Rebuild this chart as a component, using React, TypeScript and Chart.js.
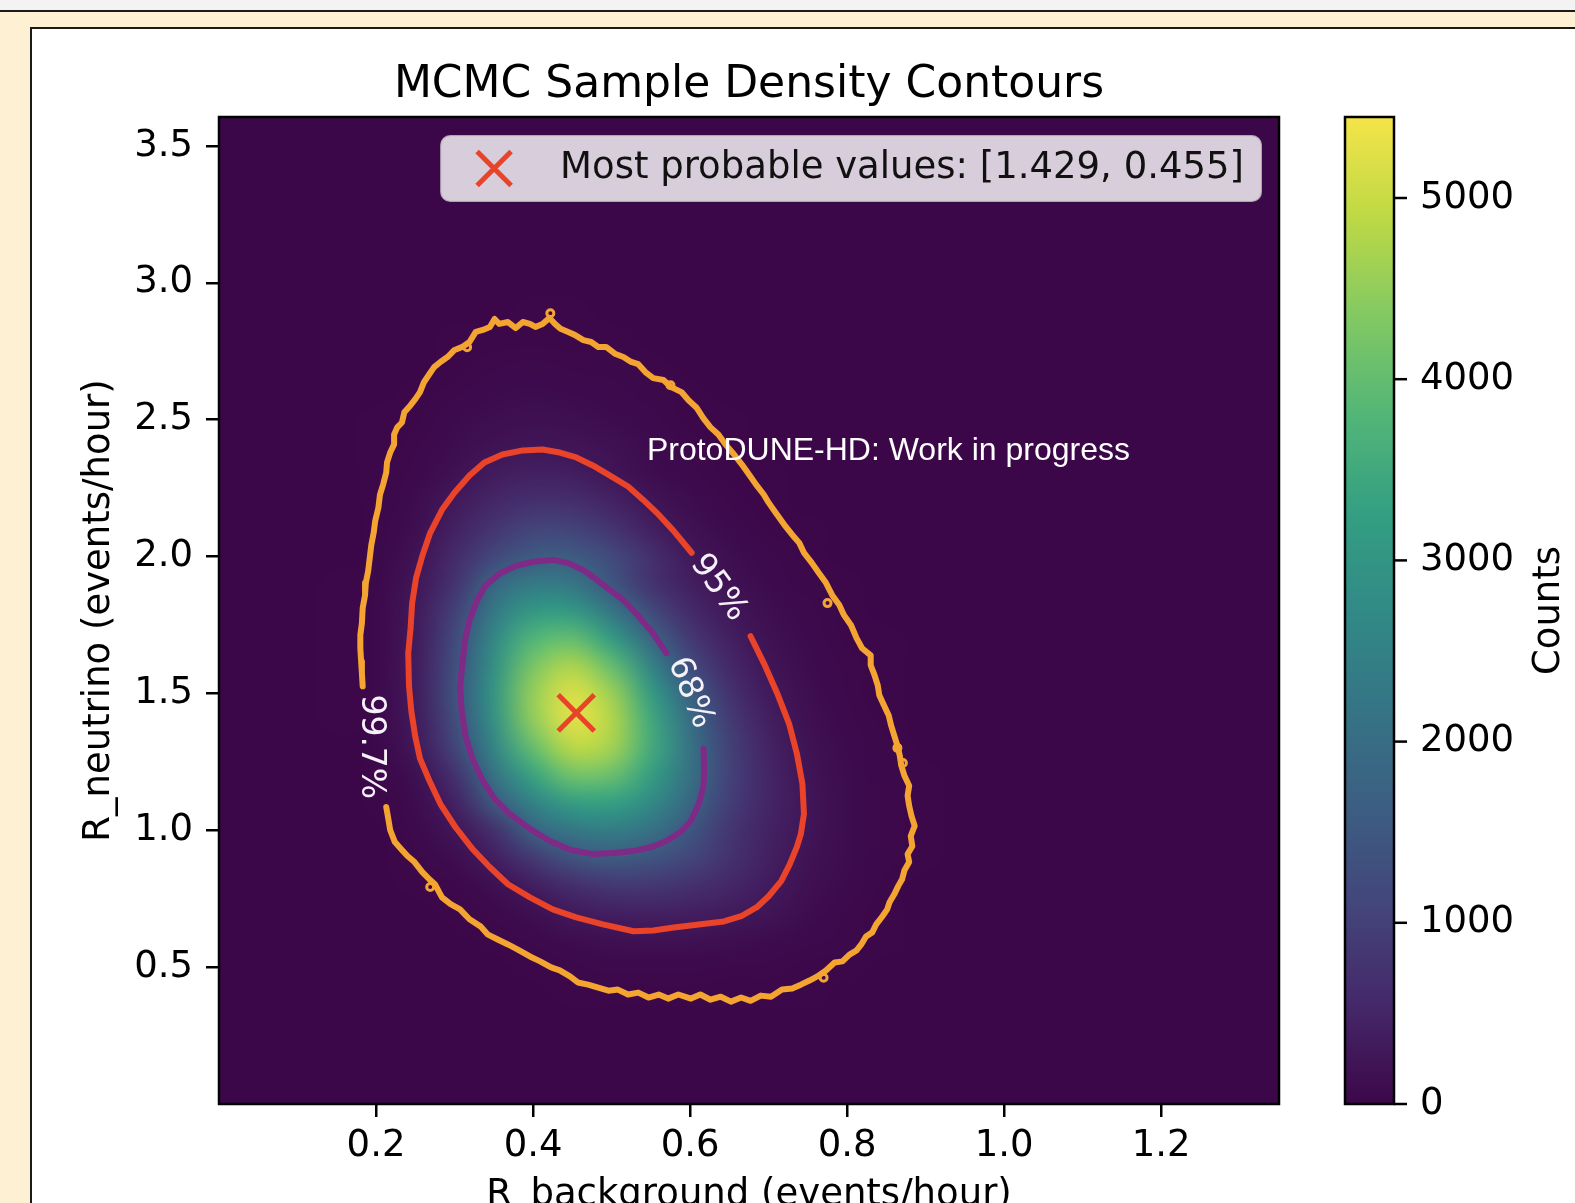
import React, { useEffect, useRef } from 'react';
import { Chart, registerables } from 'chart.js';

Chart.register(...registerables);

const FONT = "'DejaVu Sans', 'Noto Sans', sans-serif";
const WM_FONT = "'Liberation Sans', Arial, sans-serif";

// ---------- data ----------
const X_RANGE = [0, 1.35];
const Y_RANGE = [0, 3.606];
const X_TICKS = [0.2, 0.4, 0.6, 0.8, 1.0, 1.2];
const Y_TICKS = [0.5, 1.0, 1.5, 2.0, 2.5, 3.0, 3.5];
const CB_TICKS = [0, 1000, 2000, 3000, 4000, 5000];
const CB_MAX = 5447;

const TITLE = 'MCMC Sample Density Contours';
const X_LABEL = 'R_background (events/hour)';
const Y_LABEL = 'R_neutrino (events/hour)';
const CB_LABEL = 'Counts';
const WATERMARK = 'ProtoDUNE-HD: Work in progress';
const WATERMARK_POS = [0.545, 2.352];

const BEST_X = 0.455;
const BEST_Y = 1.429;

// 2D histogram (bin centres / counts), rows from low to high R_neutrino
const HEAT_X = [0.1, 0.15, 0.2, 0.25, 0.3, 0.35, 0.4, 0.45, 0.5, 0.55, 0.6, 0.65, 0.7, 0.75, 0.8, 0.85, 0.9, 0.95];
const HEAT_Y = [0.3, 0.4, 0.5, 0.6, 0.7, 0.8, 0.9, 1.0, 1.1, 1.2, 1.3, 1.4, 1.5, 1.6, 1.7, 1.8, 1.9, 2.0, 2.1, 2.2, 2.3, 2.4, 2.5, 2.6, 2.7, 2.8, 2.9, 3.0];
const HEAT_COUNTS = [
  [0, 0, 0, 0, 0, 1, 2, 3, 5, 6, 7, 7, 6, 4, 2, 1, 0, 0],
  [0, 0, 0, 0, 1, 3, 6, 11, 16, 20, 22, 21, 17, 12, 7, 3, 1, 0],
  [0, 0, 0, 1, 3, 8, 16, 29, 42, 49, 47, 41, 32, 23, 14, 5, 2, 0],
  [0, 0, 1, 3, 8, 16, 45, 95, 147, 171, 158, 126, 87, 51, 26, 10, 3, 1],
  [0, 1, 2, 5, 16, 47, 139, 310, 402, 429, 398, 331, 224, 95, 40, 15, 5, 1],
  [0, 1, 3, 11, 39, 140, 386, 661, 853, 849, 720, 527, 332, 152, 59, 22, 7, 2],
  [0, 2, 6, 25, 103, 384, 885, 1422, 1589, 1431, 1103, 731, 416, 195, 78, 30, 9, 2],
  [1, 3, 8, 46, 233, 679, 1755, 2264, 2395, 2110, 1466, 809, 444, 232, 87, 33, 10, 3],
  [1, 3, 10, 76, 418, 1497, 2526, 3202, 3274, 2719, 1835, 958, 488, 240, 86, 33, 10, 3],
  [1, 5, 16, 139, 699, 2120, 3345, 4153, 4075, 3228, 2070, 1034, 491, 219, 76, 29, 9, 2],
  [2, 7, 21, 272, 1044, 2566, 4003, 4878, 4665, 3531, 2122, 1008, 460, 191, 65, 25, 8, 2],
  [2, 9, 27, 312, 1249, 2889, 4475, 5270, 4808, 3484, 2006, 907, 400, 155, 53, 20, 6, 2],
  [3, 11, 34, 332, 1353, 2984, 4532, 5205, 4597, 3161, 1696, 735, 319, 113, 38, 14, 5, 1],
  [3, 12, 38, 337, 1294, 2857, 4253, 4768, 4017, 2549, 1230, 553, 244, 89, 32, 12, 4, 1],
  [3, 13, 39, 319, 1177, 2644, 3781, 4013, 3159, 1845, 868, 406, 172, 64, 24, 9, 3, 1],
  [3, 12, 36, 299, 997, 2288, 3097, 3090, 2233, 1189, 583, 285, 111, 42, 16, 6, 2, 0],
  [2, 10, 29, 243, 728, 1834, 2321, 2220, 1452, 753, 392, 181, 68, 26, 10, 4, 1, 0],
  [2, 8, 24, 184, 584, 1131, 1573, 1580, 1201, 693, 304, 114, 43, 16, 6, 2, 1, 0],
  [2, 7, 20, 115, 422, 797, 1081, 1054, 764, 416, 169, 63, 24, 9, 4, 1, 0, 0],
  [1, 5, 16, 78, 311, 536, 693, 668, 469, 233, 91, 36, 14, 6, 3, 1, 0, 0],
  [1, 4, 13, 46, 161, 347, 429, 387, 244, 107, 47, 21, 9, 4, 2, 1, 0, 0],
  [1, 4, 12, 37, 102, 191, 250, 230, 164, 90, 39, 14, 6, 3, 2, 1, 0, 0],
  [1, 4, 13, 24, 65, 119, 146, 129, 89, 47, 20, 10, 5, 3, 2, 1, 0, 0],
  [0, 2, 5, 15, 35, 62, 82, 72, 50, 26, 11, 5, 2, 1, 0, 0, 0, 0],
  [0, 1, 3, 8, 20, 34, 44, 38, 26, 14, 6, 3, 1, 0, 0, 0, 0, 0],
  [0, 0, 1, 4, 10, 17, 22, 19, 13, 7, 3, 1, 0, 0, 0, 0, 0, 0],
  [0, 0, 0, 2, 4, 8, 10, 9, 6, 3, 1, 0, 0, 0, 0, 0, 0, 0],
  [0, 0, 0, 0, 1, 3, 4, 3, 2, 1, 0, 0, 0, 0, 0, 0, 0, 0],
];

// contour paths (x, y) — each starts and ends at its label gap
const CONTOUR_68 = [
  [0.570, 1.647], [0.551, 1.727], [0.531, 1.793], [0.515, 1.841], [0.498, 1.878], [0.480, 1.918],
  [0.464, 1.951], [0.444, 1.977], [0.425, 1.988], [0.400, 1.981], [0.378, 1.966], [0.357, 1.937],
  [0.339, 1.893], [0.328, 1.837], [0.319, 1.768], [0.313, 1.691], [0.310, 1.610], [0.307, 1.526],
  [0.309, 1.434], [0.314, 1.342], [0.323, 1.258], [0.336, 1.181], [0.351, 1.115], [0.370, 1.060],
  [0.396, 1.005], [0.421, 0.961], [0.448, 0.928], [0.476, 0.913], [0.502, 0.917], [0.528, 0.924],
  [0.551, 0.939], [0.570, 0.961], [0.588, 0.994], [0.601, 1.034], [0.611, 1.096], [0.617, 1.159],
  [0.618, 1.225], [0.617, 1.298],
];

const CONTOUR_95 = [
  [0.677, 1.709], [0.694, 1.610], [0.711, 1.500], [0.726, 1.390], [0.736, 1.280], [0.743, 1.170],
  [0.745, 1.060], [0.741, 0.986], [0.736, 0.939], [0.727, 0.876], [0.716, 0.814], [0.700, 0.759],
  [0.685, 0.719], [0.665, 0.686], [0.643, 0.667], [0.611, 0.656], [0.579, 0.645], [0.553, 0.634],
  [0.528, 0.631], [0.489, 0.656], [0.455, 0.682], [0.425, 0.711], [0.396, 0.755], [0.368, 0.803],
  [0.345, 0.865], [0.323, 0.931], [0.301, 1.012], [0.282, 1.096], [0.268, 1.181], [0.256, 1.262],
  [0.250, 1.342], [0.245, 1.434], [0.242, 1.526], [0.241, 1.647], [0.244, 1.738], [0.246, 1.830],
  [0.251, 1.922], [0.259, 2.003], [0.269, 2.087], [0.284, 2.171], [0.300, 2.234], [0.319, 2.296],
  [0.338, 2.344], [0.361, 2.373], [0.387, 2.388], [0.412, 2.391], [0.434, 2.380], [0.455, 2.362],
  [0.476, 2.333], [0.498, 2.296], [0.521, 2.256], [0.540, 2.208], [0.560, 2.153], [0.579, 2.094],
  [0.602, 2.014],
];

const CONTOUR_997 = [
  [0.213, 1.085], [0.215, 1.052], [0.218, 1.001], [0.224, 0.957], [0.233, 0.928], [0.240, 0.906],
  [0.249, 0.884], [0.259, 0.847], [0.269, 0.818], [0.275, 0.803], [0.284, 0.755], [0.295, 0.730],
  [0.307, 0.711], [0.319, 0.675], [0.333, 0.649], [0.342, 0.620], [0.355, 0.601], [0.368, 0.583],
  [0.380, 0.565], [0.396, 0.539], [0.409, 0.521], [0.423, 0.499], [0.434, 0.488], [0.447, 0.466],
  [0.457, 0.444], [0.470, 0.436], [0.483, 0.425], [0.496, 0.414], [0.508, 0.418], [0.521, 0.400],
  [0.534, 0.407], [0.547, 0.389], [0.560, 0.400], [0.572, 0.385], [0.585, 0.400], [0.601, 0.385],
  [0.613, 0.400], [0.626, 0.381], [0.639, 0.392], [0.652, 0.374], [0.665, 0.389], [0.677, 0.377],
  [0.690, 0.396], [0.703, 0.392], [0.717, 0.418], [0.730, 0.422], [0.741, 0.436], [0.752, 0.451],
  [0.762, 0.466], [0.773, 0.488], [0.784, 0.517], [0.794, 0.521], [0.803, 0.546], [0.812, 0.561],
  [0.818, 0.583], [0.824, 0.612], [0.832, 0.627], [0.837, 0.656], [0.845, 0.686], [0.851, 0.711],
  [0.854, 0.737], [0.860, 0.766], [0.865, 0.796], [0.870, 0.821], [0.873, 0.854], [0.879, 0.884],
  [0.877, 0.913], [0.883, 0.942], [0.881, 0.979], [0.886, 1.016], [0.882, 1.052], [0.879, 1.089],
  [0.877, 1.126], [0.879, 1.163], [0.873, 1.199], [0.869, 1.236], [0.867, 1.273], [0.864, 1.309],
  [0.860, 1.346], [0.856, 1.383], [0.853, 1.419], [0.847, 1.456], [0.841, 1.493], [0.839, 1.529],
  [0.835, 1.566], [0.830, 1.603], [0.830, 1.639], [0.819, 1.665], [0.812, 1.702], [0.805, 1.749],
  [0.796, 1.786], [0.790, 1.823], [0.781, 1.859], [0.773, 1.904], [0.764, 1.940], [0.755, 1.977],
  [0.745, 2.014], [0.739, 2.050], [0.730, 2.080], [0.720, 2.116], [0.709, 2.160], [0.700, 2.197],
  [0.694, 2.226], [0.684, 2.263], [0.675, 2.300], [0.666, 2.336], [0.656, 2.373], [0.645, 2.410],
  [0.636, 2.446], [0.626, 2.472], [0.617, 2.505], [0.608, 2.545], [0.598, 2.571], [0.589, 2.601],
  [0.576, 2.619], [0.566, 2.645], [0.553, 2.652], [0.543, 2.674], [0.534, 2.703], [0.525, 2.711],
  [0.515, 2.729], [0.505, 2.740], [0.493, 2.766], [0.483, 2.766], [0.474, 2.784], [0.464, 2.791],
  [0.453, 2.810], [0.444, 2.821], [0.435, 2.832], [0.428, 2.850], [0.421, 2.872], [0.412, 2.850],
  [0.403, 2.839], [0.396, 2.850], [0.387, 2.857], [0.378, 2.835], [0.368, 2.857], [0.357, 2.850],
  [0.351, 2.868], [0.345, 2.839], [0.336, 2.828], [0.327, 2.821], [0.319, 2.784], [0.310, 2.766],
  [0.300, 2.755], [0.291, 2.729], [0.282, 2.711], [0.274, 2.692], [0.268, 2.667], [0.261, 2.637],
  [0.256, 2.601], [0.250, 2.575], [0.244, 2.553], [0.236, 2.527], [0.233, 2.490], [0.227, 2.472],
  [0.223, 2.446], [0.223, 2.410], [0.218, 2.380], [0.214, 2.344], [0.213, 2.307], [0.209, 2.263],
  [0.205, 2.226], [0.203, 2.179], [0.199, 2.131], [0.197, 2.087], [0.194, 2.043], [0.192, 1.995],
  [0.190, 1.948], [0.187, 1.904], [0.186, 1.859], [0.183, 1.812], [0.182, 1.757], [0.180, 1.713],
  [0.180, 1.665], [0.181, 1.617], [0.182, 1.573], [0.183, 1.526],
];

const CONTOUR_997_ISLANDS = [
  [0.422, 2.889], [0.316, 2.765], [0.575, 2.626], [0.775, 1.830], [0.864, 1.301], [0.871, 1.246],
  [0.770, 0.461], [0.269, 0.793],
];

const CONTOUR_LABELS = ['68%', '95%', '99.7%'];
const CONTOUR_LABEL_X = [0.600, 0.636, 0.193];
const CONTOUR_LABEL_Y = [1.502, 1.886, 1.305];
const CONTOUR_LABEL_ANGLE = [68, 54, 90];

// ---------- styles ----------
const CREAM = '#FDF0D3';
const PURPLE = '#7E2A86';
const RED = '#E9432A';
const ORANGE = '#F4A531';
const VIRIDIS = ['#440154', '#482475', '#414487', '#355f8d', '#2a788e', '#21918c', '#22a884', '#44bf70', '#7ad151', '#bddf26', '#fde725'];
// the reference rendering looks slightly desaturated
const SAT = 0.8;
const VIRIDIS_RGB = VIRIDIS.map((h) => {
  const c = [parseInt(h.slice(1, 3), 16), parseInt(h.slice(3, 5), 16), parseInt(h.slice(5, 7), 16)];
  const L = 0.299 * c[0] + 0.587 * c[1] + 0.114 * c[2];
  return c.map((v) => Math.round(L + SAT * (v - L)));
});

function cmap(t: number): number[] {
  const c = Math.min(1, Math.max(0, t)) * (VIRIDIS_RGB.length - 1);
  const i = Math.min(Math.floor(c), VIRIDIS_RGB.length - 2);
  const f = c - i;
  return [0, 1, 2].map((k) => Math.round(VIRIDIS_RGB[i][k] + f * (VIRIDIS_RGB[i + 1][k] - VIRIDIS_RGB[i][k])));
}
const rgb = (c: number[]) => `rgb(${c[0]},${c[1]},${c[2]})`;

const toPts = (arr: number[][]) => arr.map(([x, y]) => ({ x, y }));

const heatPlugin = {
  id: 'heat',
  beforeDatasetsDraw(chart: any) {
    const { ctx, chartArea: a, scales } = chart;
    const xs = scales.x;
    const ys = scales.y;
    ctx.save();
    ctx.beginPath();
    ctx.rect(a.left, a.top, a.right - a.left, a.bottom - a.top);
    ctx.clip();
    ctx.fillStyle = rgb(cmap(0));
    ctx.fillRect(a.left, a.top, a.right - a.left, a.bottom - a.top);
    const nx = HEAT_X.length;
    const ny = HEAT_Y.length;
    const off = document.createElement('canvas');
    off.width = nx;
    off.height = ny;
    const octx = off.getContext('2d')!;
    const img = octx.createImageData(nx, ny);
    for (let j = 0; j < ny; j++) {
      for (let i = 0; i < nx; i++) {
        const c = cmap(HEAT_COUNTS[j][i] / CB_MAX);
        const idx = ((ny - 1 - j) * nx + i) * 4;
        img.data[idx] = c[0];
        img.data[idx + 1] = c[1];
        img.data[idx + 2] = c[2];
        img.data[idx + 3] = 255;
      }
    }
    octx.putImageData(img, 0, 0);
    const hdx = (HEAT_X[1] - HEAT_X[0]) / 2;
    const hdy = (HEAT_Y[1] - HEAT_Y[0]) / 2;
    const px0 = xs.getPixelForValue(HEAT_X[0] - hdx);
    const px1 = xs.getPixelForValue(HEAT_X[nx - 1] + hdx);
    const py0 = ys.getPixelForValue(HEAT_Y[ny - 1] + hdy);
    const py1 = ys.getPixelForValue(HEAT_Y[0] - hdy);
    ctx.imageSmoothingEnabled = true;
    ctx.imageSmoothingQuality = 'high';
    ctx.drawImage(off, px0, py0, px1 - px0, py1 - py0);
    ctx.restore();
  },
};

const overlayPlugin = {
  id: 'overlay',
  afterDraw(chart: any) {
    const { ctx, chartArea: a, scales } = chart;
    const xs = scales.x;
    const ys = scales.y;
    const cb = scales.cb;
    ctx.save();

    // contour labels
    ctx.fillStyle = '#F6F1F8';
    ctx.font = `33px ${FONT}`;
    ctx.textAlign = 'center';
    ctx.textBaseline = 'middle';
    CONTOUR_LABELS.forEach((t, k) => {
      ctx.save();
      ctx.translate(xs.getPixelForValue(CONTOUR_LABEL_X[k]), ys.getPixelForValue(CONTOUR_LABEL_Y[k]));
      ctx.rotate((CONTOUR_LABEL_ANGLE[k] * Math.PI) / 180);
      ctx.fillText(t, 0, 0);
      ctx.restore();
    });

    // watermark
    ctx.font = `32px ${WM_FONT}`;
    ctx.fillStyle = '#FFFFFF';
    ctx.textAlign = 'left';
    ctx.textBaseline = 'alphabetic';
    ctx.fillText(WATERMARK, xs.getPixelForValue(WATERMARK_POS[0]), ys.getPixelForValue(WATERMARK_POS[1]));

    // legend
    const legendText = `Most probable values: [${BEST_Y.toFixed(3)}, ${BEST_X.toFixed(3)}]`;
    ctx.font = `37px ${FONT}`;
    const tw = ctx.measureText(legendText).width;
    const boxRight = a.right - 18;
    const boxTop = a.top + 19;
    const boxH = 65;
    const textX = boxRight - 17 - tw;
    const markX = textX - 66;
    const boxLeft = markX - 53;
    const r = 9;
    ctx.beginPath();
    ctx.moveTo(boxLeft + r, boxTop);
    ctx.arcTo(boxRight, boxTop, boxRight, boxTop + boxH, r);
    ctx.arcTo(boxRight, boxTop + boxH, boxLeft, boxTop + boxH, r);
    ctx.arcTo(boxLeft, boxTop + boxH, boxLeft, boxTop, r);
    ctx.arcTo(boxLeft, boxTop, boxRight, boxTop, r);
    ctx.closePath();
    ctx.fillStyle = 'rgba(255,255,255,0.8)';
    ctx.fill();
    ctx.strokeStyle = 'rgba(204,204,204,0.8)';
    ctx.lineWidth = 2;
    ctx.stroke();
    const my = boxTop + boxH / 2;
    ctx.strokeStyle = RED;
    ctx.lineWidth = 5;
    ctx.beginPath();
    ctx.moveTo(markX - 17, my - 17);
    ctx.lineTo(markX + 17, my + 17);
    ctx.moveTo(markX - 17, my + 17);
    ctx.lineTo(markX + 17, my - 17);
    ctx.stroke();
    ctx.fillStyle = '#111';
    ctx.textBaseline = 'middle';
    ctx.fillText(legendText, textX, my);

    // frame
    ctx.strokeStyle = '#000';
    ctx.lineWidth = 2.5;
    ctx.strokeRect(a.left, a.top, a.right - a.left, a.bottom - a.top);

    // colorbar
    const cbY = (v: number) =>
      cb && cb.bottom > cb.top ? cb.getPixelForValue(v) : a.bottom - (v / CB_MAX) * (a.bottom - a.top);
    const cbL = 1345;
    const cbR = 1394;
    const yb = cbY(0);
    const yt = cbY(CB_MAX);
    const g = ctx.createLinearGradient(0, yb, 0, yt);
    VIRIDIS_RGB.forEach((c, k) => g.addColorStop(k / (VIRIDIS_RGB.length - 1), rgb(c)));
    ctx.fillStyle = g;
    ctx.fillRect(cbL, yt, cbR - cbL, yb - yt);
    ctx.strokeRect(cbL, yt, cbR - cbL, yb - yt);
    ctx.fillStyle = '#000';
    ctx.textAlign = 'left';
    ctx.textBaseline = 'middle';
    ctx.font = `37px ${FONT}`;
    CB_TICKS.forEach((v) => {
      const y = cbY(v);
      ctx.beginPath();
      ctx.moveTo(cbR, y);
      ctx.lineTo(cbR + 13, y);
      ctx.stroke();
      ctx.fillText(String(v), cbR + 26, y);
    });
    ctx.save();
    ctx.translate(1559, (a.top + a.bottom) / 2);
    ctx.rotate(-Math.PI / 2);
    ctx.textAlign = 'center';
    ctx.textBaseline = 'alphabetic';
    ctx.fillText(CB_LABEL, 0, 0);
    ctx.restore();

    // titles
    ctx.textAlign = 'center';
    ctx.textBaseline = 'alphabetic';
    ctx.font = `44px ${FONT}`;
    ctx.fillText(TITLE, (a.left + a.right) / 2, 97);
    ctx.font = `37px ${FONT}`;
    ctx.fillText(X_LABEL, (a.left + a.right) / 2, 1205);
    ctx.save();
    ctx.translate(108.5, (a.top + a.bottom) / 2);
    ctx.rotate(-Math.PI / 2);
    ctx.fillText(Y_LABEL, 0, 0);
    ctx.restore();

    ctx.restore();
  },
};

export default function App() {
  const ref = useRef<HTMLCanvasElement>(null);
  useEffect(() => {
    const canvas = ref.current;
    if (!canvas) return;
    const lineDs = (label: string, pts: number[][], color: string) => ({
      label,
      data: toPts(pts),
      showLine: true,
      borderColor: color,
      backgroundColor: color,
      borderWidth: 6,
      pointRadius: 0,
      tension: 0,
      borderJoinStyle: 'round',
      borderCapStyle: 'round',
    });
    const chart = new Chart(canvas, {
      type: 'scatter',
      data: {
        datasets: [
          lineDs('99.7%', CONTOUR_997, ORANGE),
          {
            label: '99.7% islands',
            data: toPts(CONTOUR_997_ISLANDS),
            pointRadius: 3.5,
            pointBorderWidth: 3,
            pointBorderColor: ORANGE,
            pointBackgroundColor: 'rgba(0,0,0,0)',
            showLine: false,
          },
          lineDs('95%', CONTOUR_95, RED),
          lineDs('68%', CONTOUR_68, PURPLE),
          {
            label: 'Most probable values',
            data: [{ x: BEST_X, y: BEST_Y }],
            pointStyle: 'crossRot',
            pointRadius: 25.5,
            pointBorderWidth: 5,
            pointBorderColor: RED,
            pointBackgroundColor: RED,
            showLine: false,
          },
        ] as any,
      },
      options: {
        responsive: false,
        animation: false,
        events: [],
        layout: { padding: { left: 0, top: 117, right: 296, bottom: 0 } },
        plugins: {
          legend: { display: false },
          title: { display: false },
          tooltip: { enabled: false },
        },
        scales: {
          x: {
            type: 'linear',
            min: X_RANGE[0],
            max: X_RANGE[1],
            afterBuildTicks: (s: any) => {
              s.ticks = X_TICKS.map((v) => ({ value: v }));
            },
            afterFit: (s: any) => {
              s.height = 99;
            },
            grid: { drawOnChartArea: false, drawTicks: true, tickLength: 13, tickWidth: 2.5, tickColor: '#000', lineWidth: 2.5, color: '#000' },
            border: { display: false },
            ticks: {
              padding: 7,
              color: '#000',
              font: { family: FONT, size: 37 },
              maxRotation: 0,
              autoSkip: false,
              callback: (v: any) => Number(v).toFixed(1),
            },
          },
          y: {
            type: 'linear',
            min: Y_RANGE[0],
            max: Y_RANGE[1],
            afterBuildTicks: (s: any) => {
              s.ticks = Y_TICKS.map((v) => ({ value: v }));
            },
            afterFit: (s: any) => {
              s.width = 219;
            },
            grid: { drawOnChartArea: false, drawTicks: true, tickLength: 13, tickWidth: 2.5, tickColor: '#000', lineWidth: 2.5, color: '#000' },
            border: { display: false },
            ticks: {
              padding: 13,
              color: '#000',
              font: { family: FONT, size: 37 },
              autoSkip: false,
              callback: (v: any) => Number(v).toFixed(1),
            },
          },
          cb: {
            type: 'linear',
            position: 'right',
            display: false,
            min: 0,
            max: CB_MAX,
          },
        } as any,
      },
      plugins: [heatPlugin, overlayPlugin],
    } as any);
    return () => chart.destroy();
  }, []);

  return (
    <div
      style={{
        position: 'fixed',
        left: 0,
        top: 0,
        width: 1575,
        height: 1203,
        overflow: 'hidden',
        background: CREAM,
      }}
    >
      <div style={{ position: 'absolute', left: 0, top: 0, width: 1575, height: 10, background: '#F3F3F3' }} />
      <div style={{ position: 'absolute', left: 0, top: 9.5, width: 1575, height: 2.5, background: '#1a1a1a' }} />
      <div
        style={{
          position: 'absolute',
          left: 30,
          top: 27,
          width: 1700,
          height: 1400,
          background: '#FFFFFF',
          borderLeft: '2.5px solid #1a1a1a',
          borderTop: '2.5px solid #1a1a1a',
        }}
      />
      <canvas ref={ref} width={1575} height={1203} style={{ position: 'absolute', left: 0, top: 0 }} />
    </div>
  );
}
